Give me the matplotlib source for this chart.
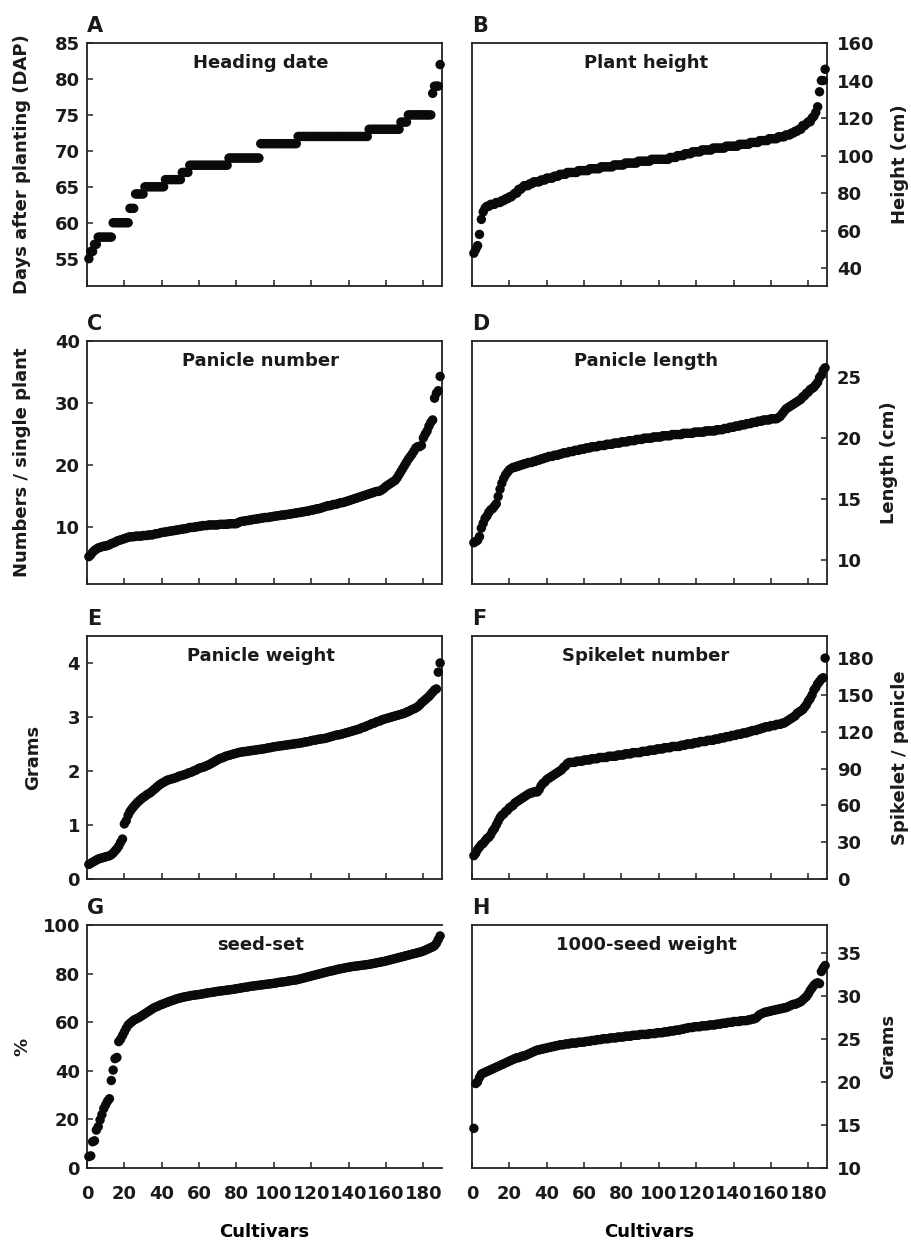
import numpy as np
import matplotlib
matplotlib.use("Agg")
import matplotlib.pyplot as plt

plt.rcParams['font.family'] = ['DejaVu Sans']
plt.rcParams['font.weight'] = 'bold'

# --- data (values sorted per trait, 189 cultivars) ---
heading_values = [55, 56, 57, 58, 60, 62, 64, 65, 66, 67, 68, 69, 71, 72, 73, 74, 75, 78, 79, 82]
heading_counts = [1, 2, 2, 8, 9, 3, 5, 11, 9, 4, 21, 17, 20, 38, 17, 4, 13, 1, 3, 1]

height_values = [48, 50, 52, 58, 66, 70, 72, 73, 74, 75, 76, 77, 78, 79, 80, 82, 83, 84, 85, 86,
                 87, 88, 89, 90, 91, 92, 93, 94, 95, 96, 97, 98, 99, 100, 101, 102, 103, 104,
                 105, 106, 107, 108, 109, 110, 111, 112, 113, 114, 116, 117, 118, 120, 121, 123,
                 126, 134, 140, 146]
height_counts = [1, 1, 1, 1, 1, 1, 1, 2, 3, 3, 2, 2, 2, 1, 2, 2, 1, 3, 2, 4,
                 3, 4, 3, 4, 6, 6, 6, 7, 6, 7, 7, 10, 4, 4, 4, 5, 6, 7,
                 7, 6, 5, 5, 5, 4, 3, 2, 2, 2, 2, 1, 2, 1, 1, 1,
                 1, 1, 2, 1]

panicle_number = [5.3, 5.6, 6.0, 6.3, 6.5, 6.7, 6.8, 6.9, 7.0, 7.0, 7.1, 7.2, 7.4, 7.5, 7.6, 7.8, 7.9, 8.0,
                  8.1, 8.2, 8.3, 8.4, 8.5, 8.5, 8.5, 8.6, 8.6, 8.6, 8.6, 8.7, 8.7, 8.7, 8.8, 8.8, 8.8,
                  8.9, 9.0, 9.0, 9.1, 9.2, 9.2, 9.3, 9.3, 9.4, 9.4, 9.5, 9.5, 9.6, 9.6, 9.7, 9.7, 9.8,
                  9.8, 9.9, 10.0, 10.0, 10.0, 10.1, 10.1, 10.2, 10.2, 10.3, 10.3, 10.3, 10.4,
                  10.4, 10.4, 10.4, 10.4, 10.4, 10.5, 10.5, 10.5, 10.5, 10.5, 10.6, 10.6, 10.6, 10.6, 10.6,
                  10.8, 10.9, 11.0, 11.0, 11.1, 11.1, 11.2, 11.2, 11.3, 11.3,
                  11.4, 11.4, 11.5, 11.5, 11.6, 11.6, 11.6, 11.7, 11.7, 11.8,
                  11.8, 11.9, 11.9, 12.0, 12.0, 12.0, 12.1, 12.1, 12.2, 12.2,
                  12.3, 12.3, 12.4, 12.4, 12.5, 12.5, 12.6, 12.6, 12.7, 12.8,
                  12.8, 12.9, 13.0, 13.0, 13.1, 13.2, 13.3, 13.4, 13.5, 13.5,
                  13.6, 13.7, 13.7, 13.8, 13.9, 14.0, 14.0, 14.1, 14.2, 14.3,
                  14.4, 14.5, 14.6, 14.7, 14.8, 14.9, 15.0, 15.1, 15.2, 15.3,
                  15.4, 15.5, 15.6, 15.7, 15.8, 15.8, 15.9, 16.1, 16.3, 16.6,
                  16.8, 17.0, 17.2, 17.4, 17.6, 18.0, 18.5, 19.0, 19.5, 20.0,
                  20.5, 21.0, 21.4, 21.8, 22.3, 22.8, 23.0, 23.0, 23.2, 24.4,
                  25.0, 25.5, 26.3, 26.9, 27.3, 30.8, 31.6, 32.0, 34.3]

panicle_length = [11.4, 11.5, 11.6, 11.9, 12.6, 13.0, 13.4, 13.6, 13.9, 14.1,
                  14.2, 14.4, 14.6, 15.2, 15.8, 16.3, 16.7, 17.0, 17.2, 17.4,
                  17.5, 17.6, 17.6, 17.7, 17.7, 17.8, 17.8, 17.9, 17.9, 18.0,
                  18.0, 18.0, 18.1, 18.1, 18.2, 18.2, 18.3, 18.3, 18.4, 18.4,
                  18.5, 18.5, 18.5, 18.6, 18.6, 18.6, 18.7, 18.7, 18.8, 18.8,
                  18.8, 18.9, 18.9, 18.9, 19.0, 19.0, 19.0, 19.1, 19.1, 19.1,
                  19.2, 19.2, 19.2, 19.3, 19.3, 19.3, 19.3, 19.4, 19.4, 19.4,
                  19.4, 19.5, 19.5, 19.5, 19.5, 19.6, 19.6, 19.6, 19.6, 19.7,
                  19.7, 19.7, 19.7, 19.8, 19.8, 19.8, 19.8, 19.9, 19.9, 19.9,
                  19.9, 20.0, 20.0, 20.0, 20.0, 20.0, 20.1, 20.1, 20.1, 20.1,
                  20.1, 20.2, 20.2, 20.2, 20.2, 20.2, 20.3, 20.3, 20.3, 20.3,
                  20.3, 20.3, 20.4, 20.4, 20.4, 20.4, 20.4, 20.4, 20.5, 20.5,
                  20.5, 20.5, 20.5, 20.5, 20.6, 20.6, 20.6, 20.6, 20.6, 20.6,
                  20.7, 20.7, 20.7, 20.7, 20.8, 20.8, 20.8, 20.9, 20.9, 20.9,
                  21.0, 21.0, 21.0, 21.1, 21.1, 21.1, 21.2, 21.2, 21.2, 21.3,
                  21.3, 21.3, 21.4, 21.4, 21.4, 21.5, 21.5, 21.5, 21.5, 21.6,
                  21.6, 21.6, 21.6, 21.7, 21.8, 22.0, 22.2, 22.4, 22.5, 22.6,
                  22.7, 22.8, 22.9, 23.0, 23.1, 23.2, 23.4, 23.5, 23.7, 23.8,
                  24.0, 24.1, 24.2, 24.4, 24.6, 25.0, 25.2, 25.6, 25.8]

panicle_weight = [0.27, 0.29, 0.31, 0.33, 0.35, 0.37, 0.38, 0.39, 0.40, 0.41,
                  0.42, 0.43, 0.45, 0.48, 0.52, 0.56, 0.61, 0.68, 0.74, 1.02,
                  1.08, 1.18, 1.25, 1.30, 1.34, 1.38, 1.42, 1.45, 1.48, 1.51,
                  1.53, 1.56, 1.58, 1.60, 1.63, 1.66, 1.69, 1.72, 1.75, 1.77,
                  1.79, 1.81, 1.83, 1.84, 1.85, 1.86, 1.87, 1.88, 1.90, 1.91,
                  1.92, 1.93, 1.94, 1.96, 1.97, 1.98, 2.00, 2.01, 2.03, 2.05,
                  2.06, 2.07, 2.08, 2.10, 2.11, 2.13, 2.15, 2.17, 2.19, 2.21,
                  2.23, 2.24, 2.25, 2.27, 2.28, 2.29, 2.30, 2.31, 2.32, 2.33,
                  2.34, 2.35, 2.35, 2.36, 2.36, 2.37, 2.37, 2.38, 2.38, 2.39,
                  2.39, 2.40, 2.40, 2.41, 2.41, 2.42, 2.43, 2.43, 2.44, 2.45,
                  2.45, 2.46, 2.46, 2.47, 2.47, 2.48, 2.48, 2.49, 2.49, 2.50,
                  2.50, 2.51, 2.51, 2.52, 2.52, 2.53, 2.54, 2.54, 2.55, 2.56,
                  2.57, 2.57, 2.58, 2.59, 2.59, 2.60, 2.60, 2.61, 2.62, 2.63,
                  2.64, 2.65, 2.66, 2.67, 2.67, 2.68, 2.69, 2.70, 2.71, 2.72,
                  2.73, 2.74, 2.75, 2.76, 2.77, 2.78, 2.80, 2.81, 2.82, 2.84,
                  2.85, 2.87, 2.88, 2.89, 2.91, 2.92, 2.93, 2.95, 2.96, 2.97,
                  2.98, 2.99, 3.00, 3.01, 3.02, 3.03, 3.04, 3.05, 3.06, 3.07,
                  3.09, 3.10, 3.12, 3.14, 3.15, 3.17, 3.19, 3.22, 3.26, 3.29,
                  3.32, 3.35, 3.38, 3.42, 3.46, 3.50, 3.52, 3.83, 4.00]

spikelet_number = [19, 21, 24, 26, 28, 29, 31, 33, 34, 36,
                   39, 41, 44, 47, 50, 52, 53, 55, 56, 58,
                   59, 60, 62, 63, 64, 65, 66, 67, 68, 69,
                   70, 70, 71, 71, 71, 73, 76, 78, 79, 81,
                   82, 83, 84, 85, 86, 87, 88, 89, 91, 92,
                   94, 95, 95, 95, 95, 96, 96, 96, 96, 97,
                   97, 97, 97, 98, 98, 98, 98, 99, 99, 99,
                   99, 99, 100, 100, 100, 100, 100, 101, 101, 101,
                   101, 102, 102, 102, 102, 103, 103, 103, 103, 103,
                   104, 104, 104, 104, 105, 105, 105, 105, 106, 106,
                   106, 106, 107, 107, 107, 107, 108, 108, 108, 108,
                   108, 109, 109, 109, 110, 110, 110, 110, 111, 111,
                   111, 112, 112, 112, 112, 113, 113, 113, 113, 114,
                   114, 114, 115, 115, 115, 116, 116, 116, 117, 117,
                   117, 118, 118, 118, 119, 119, 119, 120, 120, 121,
                   121, 121, 122, 122, 123, 123, 124, 124, 124, 125,
                   125, 125, 126, 126, 126, 127, 127, 128, 129, 130,
                   131, 132, 133, 135, 136, 137, 138, 140, 142, 145,
                   147, 150, 154, 156, 159, 161, 163, 164, 180]

seed_set = [4.7, 5.0, 10.8, 11.2, 15.6, 17.0, 19.8, 22.0, 24.5, 26.0,
            27.5, 28.5, 36.0, 40.3, 45.0, 45.5, 52.0, 53.0, 54.5, 56.0,
            57.5, 58.8, 59.5, 60.2, 60.8, 61.2, 61.6, 62.0, 62.5, 63.0,
            63.5, 64.0, 64.5, 65.0, 65.5, 66.0, 66.3, 66.6, 67.0, 67.3,
            67.6, 67.9, 68.2, 68.5, 68.8, 69.0, 69.3, 69.6, 69.8, 70.0,
            70.2, 70.4, 70.5, 70.7, 70.8, 71.0, 71.1, 71.2, 71.3, 71.4,
            71.5, 71.7, 71.8, 72.0, 72.1, 72.2, 72.3, 72.4, 72.6, 72.7,
            72.8, 72.9, 73.0, 73.1, 73.2, 73.3, 73.4, 73.5, 73.6, 73.8,
            73.9, 74.0, 74.2, 74.3, 74.4, 74.5, 74.7, 74.8, 74.9, 75.0,
            75.1, 75.2, 75.3, 75.4, 75.5, 75.6, 75.7, 75.8, 75.9, 76.0,
            76.1, 76.3, 76.4, 76.5, 76.6, 76.7, 76.8, 77.0, 77.1, 77.2,
            77.3, 77.4, 77.6, 77.8, 78.0, 78.2, 78.4, 78.6, 78.8, 79.0,
            79.2, 79.4, 79.6, 79.8, 80.0, 80.2, 80.4, 80.6, 80.8, 81.0,
            81.1, 81.3, 81.5, 81.7, 81.9, 82.0, 82.2, 82.3, 82.5, 82.6,
            82.8, 82.9, 83.0, 83.1, 83.2, 83.3, 83.4, 83.5, 83.6, 83.7,
            83.8, 84.0, 84.1, 84.3, 84.4, 84.6, 84.7, 84.9, 85.0, 85.2,
            85.4, 85.6, 85.8, 86.0, 86.2, 86.4, 86.6, 86.8, 87.0, 87.2,
            87.4, 87.6, 87.8, 88.0, 88.2, 88.4, 88.6, 88.8, 89.0, 89.3,
            89.6, 90.0, 90.3, 90.7, 91.0, 91.5, 92.5, 94.0, 95.5]

seed_weight = [14.6, 19.8, 20.0, 20.5, 20.9, 21.0, 21.1, 21.2, 21.3, 21.4,
               21.5, 21.6, 21.7, 21.8, 21.9, 22.0, 22.1, 22.2, 22.3, 22.4,
               22.5, 22.6, 22.7, 22.8, 22.8, 22.9, 23.0, 23.0, 23.1, 23.2,
               23.3, 23.4, 23.5, 23.6, 23.7, 23.7, 23.8, 23.8, 23.9, 23.9,
               24.0, 24.0, 24.1, 24.1, 24.2, 24.2, 24.3, 24.3, 24.3, 24.4,
               24.4, 24.4, 24.5, 24.5, 24.5, 24.5, 24.6, 24.6, 24.6, 24.6,
               24.7, 24.7, 24.7, 24.8, 24.8, 24.8, 24.9, 24.9, 24.9, 25.0,
               25.0, 25.0, 25.0, 25.1, 25.1, 25.1, 25.1, 25.2, 25.2, 25.2,
               25.2, 25.3, 25.3, 25.3, 25.3, 25.4, 25.4, 25.4, 25.4, 25.5,
               25.5, 25.5, 25.5, 25.5, 25.6, 25.6, 25.6, 25.6, 25.7, 25.7,
               25.7, 25.7, 25.8, 25.8, 25.8, 25.9, 25.9, 25.9, 26.0, 26.0,
               26.0, 26.1, 26.1, 26.2, 26.2, 26.3, 26.3, 26.3, 26.4, 26.4,
               26.4, 26.4, 26.5, 26.5, 26.5, 26.5, 26.6, 26.6, 26.6, 26.6,
               26.7, 26.7, 26.7, 26.8, 26.8, 26.8, 26.9, 26.9, 26.9, 27.0,
               27.0, 27.0, 27.0, 27.1, 27.1, 27.1, 27.1, 27.2, 27.2, 27.3,
               27.3, 27.4, 27.6, 27.8, 27.9, 28.0, 28.1, 28.1, 28.2, 28.2,
               28.3, 28.3, 28.4, 28.4, 28.5, 28.5, 28.6, 28.6, 28.7, 28.8,
               28.9, 29.0, 29.0, 29.1, 29.2, 29.3, 29.5, 29.7, 29.9, 30.2,
               30.6, 30.9, 31.2, 31.4, 31.5, 31.4, 32.8, 33.2, 33.5]

heading_date = np.repeat(heading_values, heading_counts)
plant_height = np.repeat(height_values, height_counts)

x_ticks = list(range(0, 181, 20))

# (letter, title, data, ylabel, ylim, yticks, side)
panels = [
    ('A', 'Heading date', heading_date, 'Days after planting (DAP)', (51.2, 85), [55, 60, 65, 70, 75, 80, 85], 'left'),
    ('B', 'Plant height', plant_height, 'Height (cm)', (30.5, 160), [40, 60, 80, 100, 120, 140, 160], 'right'),
    ('C', 'Panicle number', panicle_number, 'Numbers / single plant', (0.9, 40), [10, 20, 30, 40], 'left'),
    ('D', 'Panicle length', panicle_length, 'Length (cm)', (8, 28), [10, 15, 20, 25], 'right'),
    ('E', 'Panicle weight', panicle_weight, 'Grams', (0, 4.5), [0, 1, 2, 3, 4], 'left'),
    ('F', 'Spikelet number', spikelet_number, 'Spikelet / panicle', (0, 198), [0, 30, 60, 90, 120, 150, 180], 'right'),
    ('G', 'seed-set', seed_set, '%', (0, 100), [0, 20, 40, 60, 80, 100], 'left'),
    ('H', '1000-seed weight', seed_weight, 'Grams', (10, 38.2), [10, 15, 20, 25, 30, 35], 'right'),
]

label_x = {'A': -0.158, 'C': -0.158, 'E': -0.127, 'G': -0.158,
           'B': 1.18, 'D': 1.148, 'F': 1.18, 'H': 1.148}

fig = plt.figure(figsize=(9.12, 12.4), dpi=100)
W, H = 912.0, 1240.0
col_left = [87, 472]
row_top = [43, 341, 636, 925]
ax_w, ax_h = 355, 243

for i, (letter, title, vals, ylabel, ylim, yticks, side) in enumerate(panels):
    row, col = divmod(i, 2)
    ax = fig.add_axes([col_left[col] / W, 1 - (row_top[row] + ax_h) / H, ax_w / W, ax_h / H])
    x = np.arange(1, len(vals) + 1)
    ax.scatter(x, vals, s=46, color='#0a0a0a', edgecolors='none', zorder=3, clip_on=False)
    ax.set_xlim(0, 190)
    ax.set_ylim(*ylim)
    ax.set_xticks(x_ticks)
    ax.set_yticks(yticks)
    for sp in ax.spines.values():
        sp.set_linewidth(1.3)
        sp.set_color('#222222')
    if letter == 'G':
        ax.spines['right'].set_visible(False)
    ax.tick_params(axis='both', direction='in', length=4.5, width=1.1, colors='#222222',
                   labelsize=13, labelcolor='#1a1a1a')
    ax.tick_params(axis='y', pad=5)
    if side == 'right':
        ax.yaxis.tick_right()
        ax.yaxis.set_label_position('right')
        ax.tick_params(axis='y', pad=7)
    if row < 3:
        ax.tick_params(axis='x', labelbottom=False)
    else:
        ax.tick_params(axis='x', pad=12)
        ax.set_xlabel('Cultivars', fontsize=13, fontweight='bold')
        ax.xaxis.set_label_coords(0.5, -0.226)
    for lab in ax.get_xticklabels() + ax.get_yticklabels():
        lab.set_fontweight('bold')
    ax.set_ylabel(ylabel, fontsize=13, fontweight='bold', color='#1a1a1a')
    ax.yaxis.set_label_coords(label_x[letter], 0.5)
    ax.text(0.49, 0.918, title, transform=ax.transAxes, ha='center', va='center',
            fontsize=13, fontweight='bold', color='#1a1a1a')
    ax.text(0.0, 1.045, letter, transform=ax.transAxes, ha='left', va='baseline',
            fontsize=15, fontweight='bold', color='#1a1a1a')

fig.savefig('out.png', dpi=100)
